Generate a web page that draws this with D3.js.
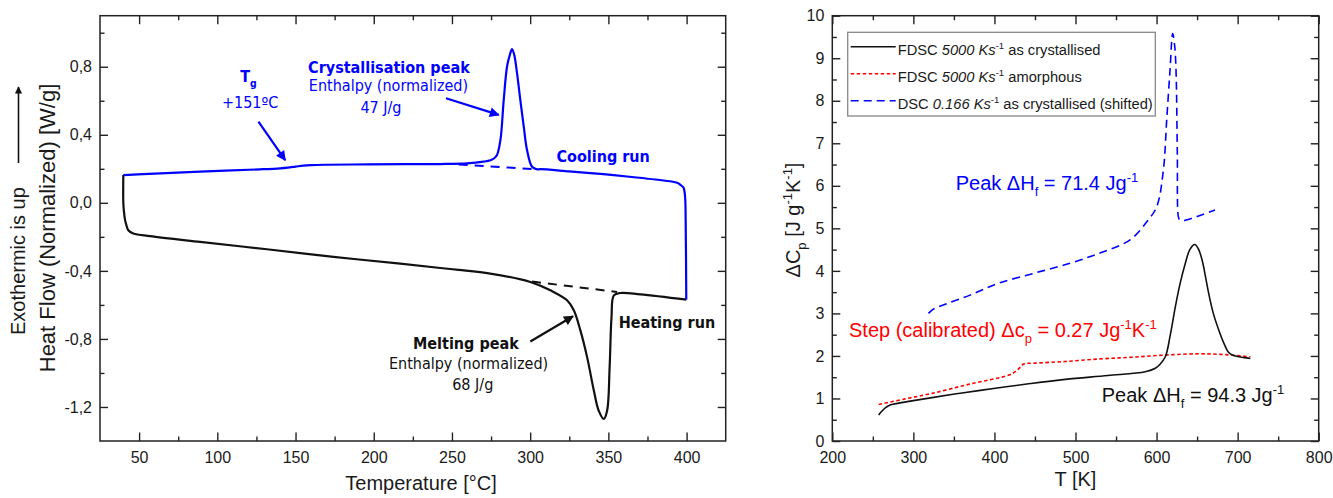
<!DOCTYPE html>
<html>
<head>
<meta charset="utf-8">
<title>DSC / FDSC</title>
<script src="https://cdn.jsdelivr.net/npm/d3@7"></script>
<style>
  body { margin: 0; background: #fff; }
  #chart text { font-family: "Liberation Sans", Arial, sans-serif; fill: #1a1a1a; }
  #chart .tick text { font-size: 16px; }
  #chart .anno { font-family: "DejaVu Sans Condensed", "DejaVu Sans", sans-serif; font-stretch: semi-condensed; font-size: 16px; }
  #chart .frame { fill: none; stroke: #222; stroke-width: 1.5; }
  #chart .tick line { stroke: #222; stroke-width: 1.4; }
</style>
</head>
<body>
<div id="chart"></div>
<script>
// ---- left panel : heat flow vs temperature ----
var coolT = [399.8, 399.4, 399.0, 398.0, 396.1, 394, 380, 365, 345, 325, 306.5, 304.4, 301.2, 298.0, 295.9, 293.7, 291.6, 289.8, 288.4, 287.0, 285.2, 283.1, 281.0, 278.8, 277, 274.6, 270.2, 259.6, 242.6, 220, 195.7, 170, 160, 155, 150, 145, 140.2, 127.4, 89, 60, 39.9];
var coolV = [-0.569, -0.1, 0.04, 0.09, 0.105, 0.118, 0.137, 0.152, 0.17, 0.185, 0.198, 0.197, 0.212, 0.31, 0.448, 0.605, 0.762, 0.87, 0.904, 0.87, 0.80, 0.605, 0.37, 0.281, 0.262, 0.25, 0.242, 0.232, 0.228, 0.227, 0.226, 0.224, 0.222, 0.219, 0.213, 0.207, 0.203, 0.197, 0.183, 0.172, 0.163];
var heatT = [39.9, 39.9, 40.3, 41.0, 41.6, 43.1, 46.3, 57, 89, 131.7, 174.3, 217, 242.6, 254.3, 274.5, 300.1, 312.9, 323.6, 327.9, 332.1, 336.4, 340.7, 343.8, 347.1, 349.2, 350.8, 352.0, 353.5, 357.7, 370.5, 399.8];
var heatV = [0.163, 0.0, -0.05, -0.1, -0.122, -0.161, -0.18, -0.196, -0.23, -0.273, -0.318, -0.357, -0.383, -0.394, -0.416, -0.465, -0.514, -0.573, -0.632, -0.75, -0.907, -1.103, -1.221, -1.27, -1.221, -0.966, -0.672, -0.544, -0.53, -0.538, -0.569];
var coolBaseT = [254.3, 304.4], coolBaseV = [0.226, 0.197];
var heatBaseT = [301.2, 355.6], heatBaseV = [-0.463, -0.524];
var leftXTicks = [50, 100, 150, 200, 250, 300, 350, 400];
var leftXMinor = [75, 125, 175, 225, 275, 325, 375];
var leftYTicks = [-1.2, -0.8, -0.4, 0, 0.4, 0.8];
var leftYMinor = [-1.0, -0.6, -0.2, 0.2, 0.6, 1.0];

// ---- right panel : delta Cp vs T ----
var crystT = [257.2, 261, 265.4, 272, 282, 300, 323, 360, 401.1, 440, 487.4, 540, 586.1, 598.5, 604, 610.8, 617, 623.2, 629, 635.5, 641, 647.1, 651.5, 656.1, 660, 664.3, 670, 676.7, 683, 689, 695, 701.4, 708, 715.7];
var crystV = [0.61, 0.70, 0.78, 0.85, 0.89, 0.95, 1.02, 1.13, 1.24, 1.34, 1.45, 1.54, 1.63, 1.71, 1.80, 1.98, 2.5, 3.16, 3.7, 4.18, 4.5, 4.62, 4.52, 4.26, 3.9, 3.47, 3.0, 2.61, 2.3, 2.08, 2.01, 1.98, 1.96, 1.94];
var amorT = [257.2, 290, 323, 370, 417.6, 425.8, 431, 436.1, 450, 487.4, 530, 569.7, 610, 652, 685, 715.7];
var amorV = [0.86, 0.99, 1.12, 1.34, 1.55, 1.63, 1.72, 1.81, 1.83, 1.87, 1.93, 1.97, 2.02, 2.05, 2.03, 1.98];
var dscT = [318.6, 324.7, 340, 369.9, 405.3, 450, 493.3, 530, 567.3, 588.2, 600.2, 608.4, 612.5, 616.6, 619.9, 622.3, 624, 625.6, 626.9, 628.5, 633, 650, 672.1];
var dscV = [3.0, 3.10, 3.22, 3.43, 3.71, 3.95, 4.18, 4.42, 4.73, 5.16, 5.51, 6.37, 7.55, 8.72, 9.58, 9.3, 8.72, 6.76, 5.27, 5.2, 5.18, 5.28, 5.43];
var rightXTicks = [200, 300, 400, 500, 600, 700, 800];
var rightXMinor = [250, 350, 450, 550, 650, 750];
var rightYTicks = d3.range(0, 11);
var rightYMinor = d3.range(0.5, 10, 1);
var legendNames = [
  [["FDSC "], ["5000 Ks", "i"], ["-1", "sup"], [" as crystallised"]],
  [["FDSC "], ["5000 Ks", "i"], ["-1", "sup"], [" amorphous"]],
  [["DSC "], ["0.166 Ks", "i"], ["-1", "sup"], [" as crystallised (shifted)"]]
];

var BLUE = "#0000ff", RED = "#ff0000", BLACK = "#111";

var svg = d3.select('#chart').append('svg')
  .attr('width', 1333).attr('height', 498);

var defs = svg.append('defs');
[['headBlue', BLUE], ['headBlack', BLACK]].forEach(function(m) {
  defs.append('marker').attr('id', m[0])
    .attr('viewBox', '0 0 10 10').attr('refX', 9).attr('refY', 5)
    .attr('markerWidth', 5.5).attr('markerHeight', 4.5)
    .attr('markerUnits', 'strokeWidth').attr('orient', 'auto')
    .append('path').attr('d', 'M0,0 L10,5 L0,10 Z').attr('fill', m[1]);
});

// rich text helper: parts = [[text, kind]], kind: '', 'i', 'b', 'sub', 'sup'
function rich(sel, parts, size) {
  var shift = 0;
  parts.forEach(function(p) {
    var t = sel.append('tspan').text(p[0]);
    var want = p[1] == 'sub' ? size * 0.32 : (p[1] == 'sup' ? -size * 0.4 : 0);
    if (want != shift) t.attr('dy', want - shift);
    shift = want;
    if (p[1] == 'sub' || p[1] == 'sup') t.style('font-size', (size * 0.65) + 'px');
    if (p[1] == 'i') t.style('font-style', 'italic');
    if (p[1] == 'b') t.style('font-weight', 'bold');
  });
  return sel;
}

function frame(x, y, xt, xm, yt, ym, fmtY) {
  var g = svg.append('g');
  var x0 = x.range()[0], x1 = x.range()[1], y0 = y.range()[0], y1 = y.range()[1];
  g.append('g').attr('transform', 'translate(0,' + y0 + ')')
    .call(d3.axisBottom(x).tickValues(xt).tickSize(-8.5).tickSizeOuter(0).tickPadding(11).tickFormat(d3.format('d')));
  g.append('g').attr('transform', 'translate(0,' + y0 + ')')
    .call(d3.axisBottom(x).tickValues(xm).tickSize(-4.5).tickFormat(''));
  g.append('g').attr('transform', 'translate(0,' + y1 + ')')
    .call(d3.axisTop(x).tickValues(xt).tickSize(-8.5).tickFormat(''));
  g.append('g').attr('transform', 'translate(0,' + y1 + ')')
    .call(d3.axisTop(x).tickValues(xm).tickSize(-4.5).tickFormat(''));
  g.append('g').attr('transform', 'translate(' + x0 + ',0)')
    .call(d3.axisLeft(y).tickValues(yt).tickSize(-8).tickSizeOuter(0).tickPadding(8).tickFormat(fmtY));
  g.append('g').attr('transform', 'translate(' + x0 + ',0)')
    .call(d3.axisLeft(y).tickValues(ym).tickSize(-4.5).tickFormat(''));
  g.append('g').attr('transform', 'translate(' + x1 + ',0)')
    .call(d3.axisRight(y).tickValues(yt).tickSize(-8).tickFormat(''));
  g.append('g').attr('transform', 'translate(' + x1 + ',0)')
    .call(d3.axisRight(y).tickValues(ym).tickSize(-4.5).tickFormat(''));
  g.selectAll('.domain').remove();
  g.selectAll('.tick text').attr('fill', '#1a1a1a');
  g.append('rect').attr('class', 'frame')
    .attr('x', x0).attr('y', y1).attr('width', x1 - x0).attr('height', y0 - y1);
}

// ================= left panel =================
var xL = d3.scaleLinear().domain([25, 425]).range([100, 725.7]);
var yL = d3.scaleLinear().domain([-1.4, 1.1]).range([441, 15.7]);
frame(xL, yL, leftXTicks, leftXMinor, leftYTicks, leftYMinor,
  function(d) { return d.toFixed(1).replace('.', ','); });

var lineL = d3.line().x(d => xL(d[0])).y(d => yL(d[1])).curve(d3.curveCatmullRom.alpha(0.5));
svg.append('path').datum(d3.zip(heatBaseT, heatBaseV)).attr('d', lineL)
  .attr('fill', 'none').attr('stroke', BLACK).attr('stroke-width', 2).attr('stroke-dasharray', '9,7');
svg.append('path').datum(d3.zip(coolBaseT, coolBaseV)).attr('d', lineL)
  .attr('fill', 'none').attr('stroke', BLUE).attr('stroke-width', 2).attr('stroke-dasharray', '9,7');
svg.append('path').datum(d3.zip(heatT, heatV)).attr('d', lineL)
  .attr('fill', 'none').attr('stroke', BLACK).attr('stroke-width', 2.2);
svg.append('path').datum(d3.zip(coolT, coolV)).attr('d', lineL)
  .attr('fill', 'none').attr('stroke', BLUE).attr('stroke-width', 2.2);

function arrowL(t0, v0, t1, v1, col, head) {
  svg.append('line').attr('x1', xL(t0)).attr('y1', yL(v0)).attr('x2', xL(t1)).attr('y2', yL(v1))
    .attr('stroke', col).attr('stroke-width', 2.2).attr('marker-end', 'url(#' + head + ')');
}
arrowL(126.3, 0.477, 143.4, 0.251, BLUE, 'headBlue');
arrowL(246.2, 0.615, 279.9, 0.517, BLUE, 'headBlue');
arrowL(300.1, -0.815, 327.4, -0.667, BLACK, 'headBlack');

function annoL(t, v, parts, col, anchor) {
  var s = svg.append('text').attr('class', 'anno').attr('x', xL(t)).attr('y', yL(v))
    .attr('text-anchor', anchor || 'middle').style('fill', col);
  rich(s, parts, 16);
  return s;
}
annoL(119.9, 0.713, [["T"], ["g", "sub"]], BLUE).style('font-weight', 'bold');
annoL(121, 0.556, [["+151ºC"]], BLUE);
annoL(209.7, 0.766, [["Crystallisation peak", "b"]], BLUE);
annoL(209.4, 0.658, [["Enthalpy (normalized)"]], BLUE);
annoL(204.6, 0.527, [["47 J/g"]], BLUE);
annoL(316.8, 0.2415, [["Cooling run", "b"]], BLUE, 'start');
annoL(356.6, -0.736, [["Heating run", "b"]], BLACK, 'start');
annoL(258.9, -0.862, [["Melting peak", "b"]], BLACK);
annoL(260.6, -0.976, [["Enthalpy (normalized)"]], BLACK);
annoL(263.3, -1.099, [["68 J/g"]], BLACK);

// axis titles
svg.append('text').attr('x', 421).attr('y', 490).attr('text-anchor', 'middle')
  .style('font-size', '20px').text('Temperature [°C]');
svg.append('text').attr('transform', 'translate(55,228) rotate(-90)').attr('text-anchor', 'middle')
  .style('font-size', '22px').text('Heat Flow (Normalized) [W/g]');
svg.append('text').attr('transform', 'translate(25,335) rotate(-90)').attr('text-anchor', 'start')
  .style('font-size', '20px').text('Exothermic is up');
svg.append('line').attr('x1', 18.5).attr('y1', 163).attr('x2', 18.5).attr('y2', 87)
  .attr('stroke', BLACK).attr('stroke-width', 1.6).attr('marker-end', 'url(#headBlack)');

// ================= right panel =================
var xR = d3.scaleLinear().domain([200, 800]).range([832.3, 1318.7]);
var yR = d3.scaleLinear().domain([0, 10]).range([441, 15.7]);
frame(xR, yR, rightXTicks, rightXMinor, rightYTicks, rightYMinor, d3.format('d'));

var lineR = d3.line().x(d => xR(d[0])).y(d => yR(d[1])).curve(d3.curveCatmullRom.alpha(0.5));
svg.append('path').datum(d3.zip(amorT, amorV)).attr('d', lineR)
  .attr('fill', 'none').attr('stroke', RED).attr('stroke-width', 1.6).attr('stroke-dasharray', '3.5,2.5');
svg.append('path').datum(d3.zip(dscT, dscV)).attr('d', lineR)
  .attr('fill', 'none').attr('stroke', BLUE).attr('stroke-width', 1.6).attr('stroke-dasharray', '8,5');
svg.append('path').datum(d3.zip(crystT, crystV)).attr('d', lineR)
  .attr('fill', 'none').attr('stroke', BLACK).attr('stroke-width', 1.6);

function annoR(t, v, parts, col) {
  var s = svg.append('text').attr('x', xR(t)).attr('y', yR(v)).style('font-size', '20px').style('fill', col);
  rich(s, parts, 20);
}
annoR(352.2, 5.90, [["Peak ΔH"], ["f", "sub"], [" = 71.4 Jg"], ["-1", "sup"]], BLUE);
annoR(220.6, 2.445, [["Step (calibrated) Δc"], ["p", "sub"], [" = 0.27 Jg"], ["-1", "sup"], ["K"], ["-1", "sup"]], RED);
annoR(532.4, 0.924, [["Peak ΔH"], ["f", "sub"], [" = 94.3 Jg"], ["-1", "sup"]], BLACK);

// legend
var leg = svg.append('g').attr('transform', 'translate(847.7,32.3)');
leg.append('rect').attr('width', 307.6).attr('height', 83.7)
  .attr('fill', '#fff').attr('stroke', '#888').attr('stroke-width', 1.3);
var legStyle = [[BLACK, null], [RED, '3.5,2.5'], [BLUE, '8,5']];
legendNames.forEach(function(parts, i) {
  var yy = 14.5 + i * 27;
  leg.append('line').attr('x1', 3).attr('x2', 48).attr('y1', yy).attr('y2', yy)
    .attr('stroke', legStyle[i][0]).attr('stroke-width', 1.6).attr('stroke-dasharray', legStyle[i][1]);
  var t = leg.append('text').attr('x', 50).attr('y', yy + 8).style('font-size', '14.7px');
  rich(t, parts, 14.7);
});

svg.append('text').attr('x', 1075.5).attr('y', 486).attr('text-anchor', 'middle')
  .style('font-size', '20px').text('T [K]');
var yt = svg.append('text').attr('transform', 'translate(800,220) rotate(-90)').attr('text-anchor', 'middle')
  .style('font-size', '20px');
rich(yt, [["ΔC"], ["p", "sub"], [" [J g"], ["-1", "sup"], ["K"], ["-1", "sup"], ["]"]], 20);
</script>
</body>
</html>
